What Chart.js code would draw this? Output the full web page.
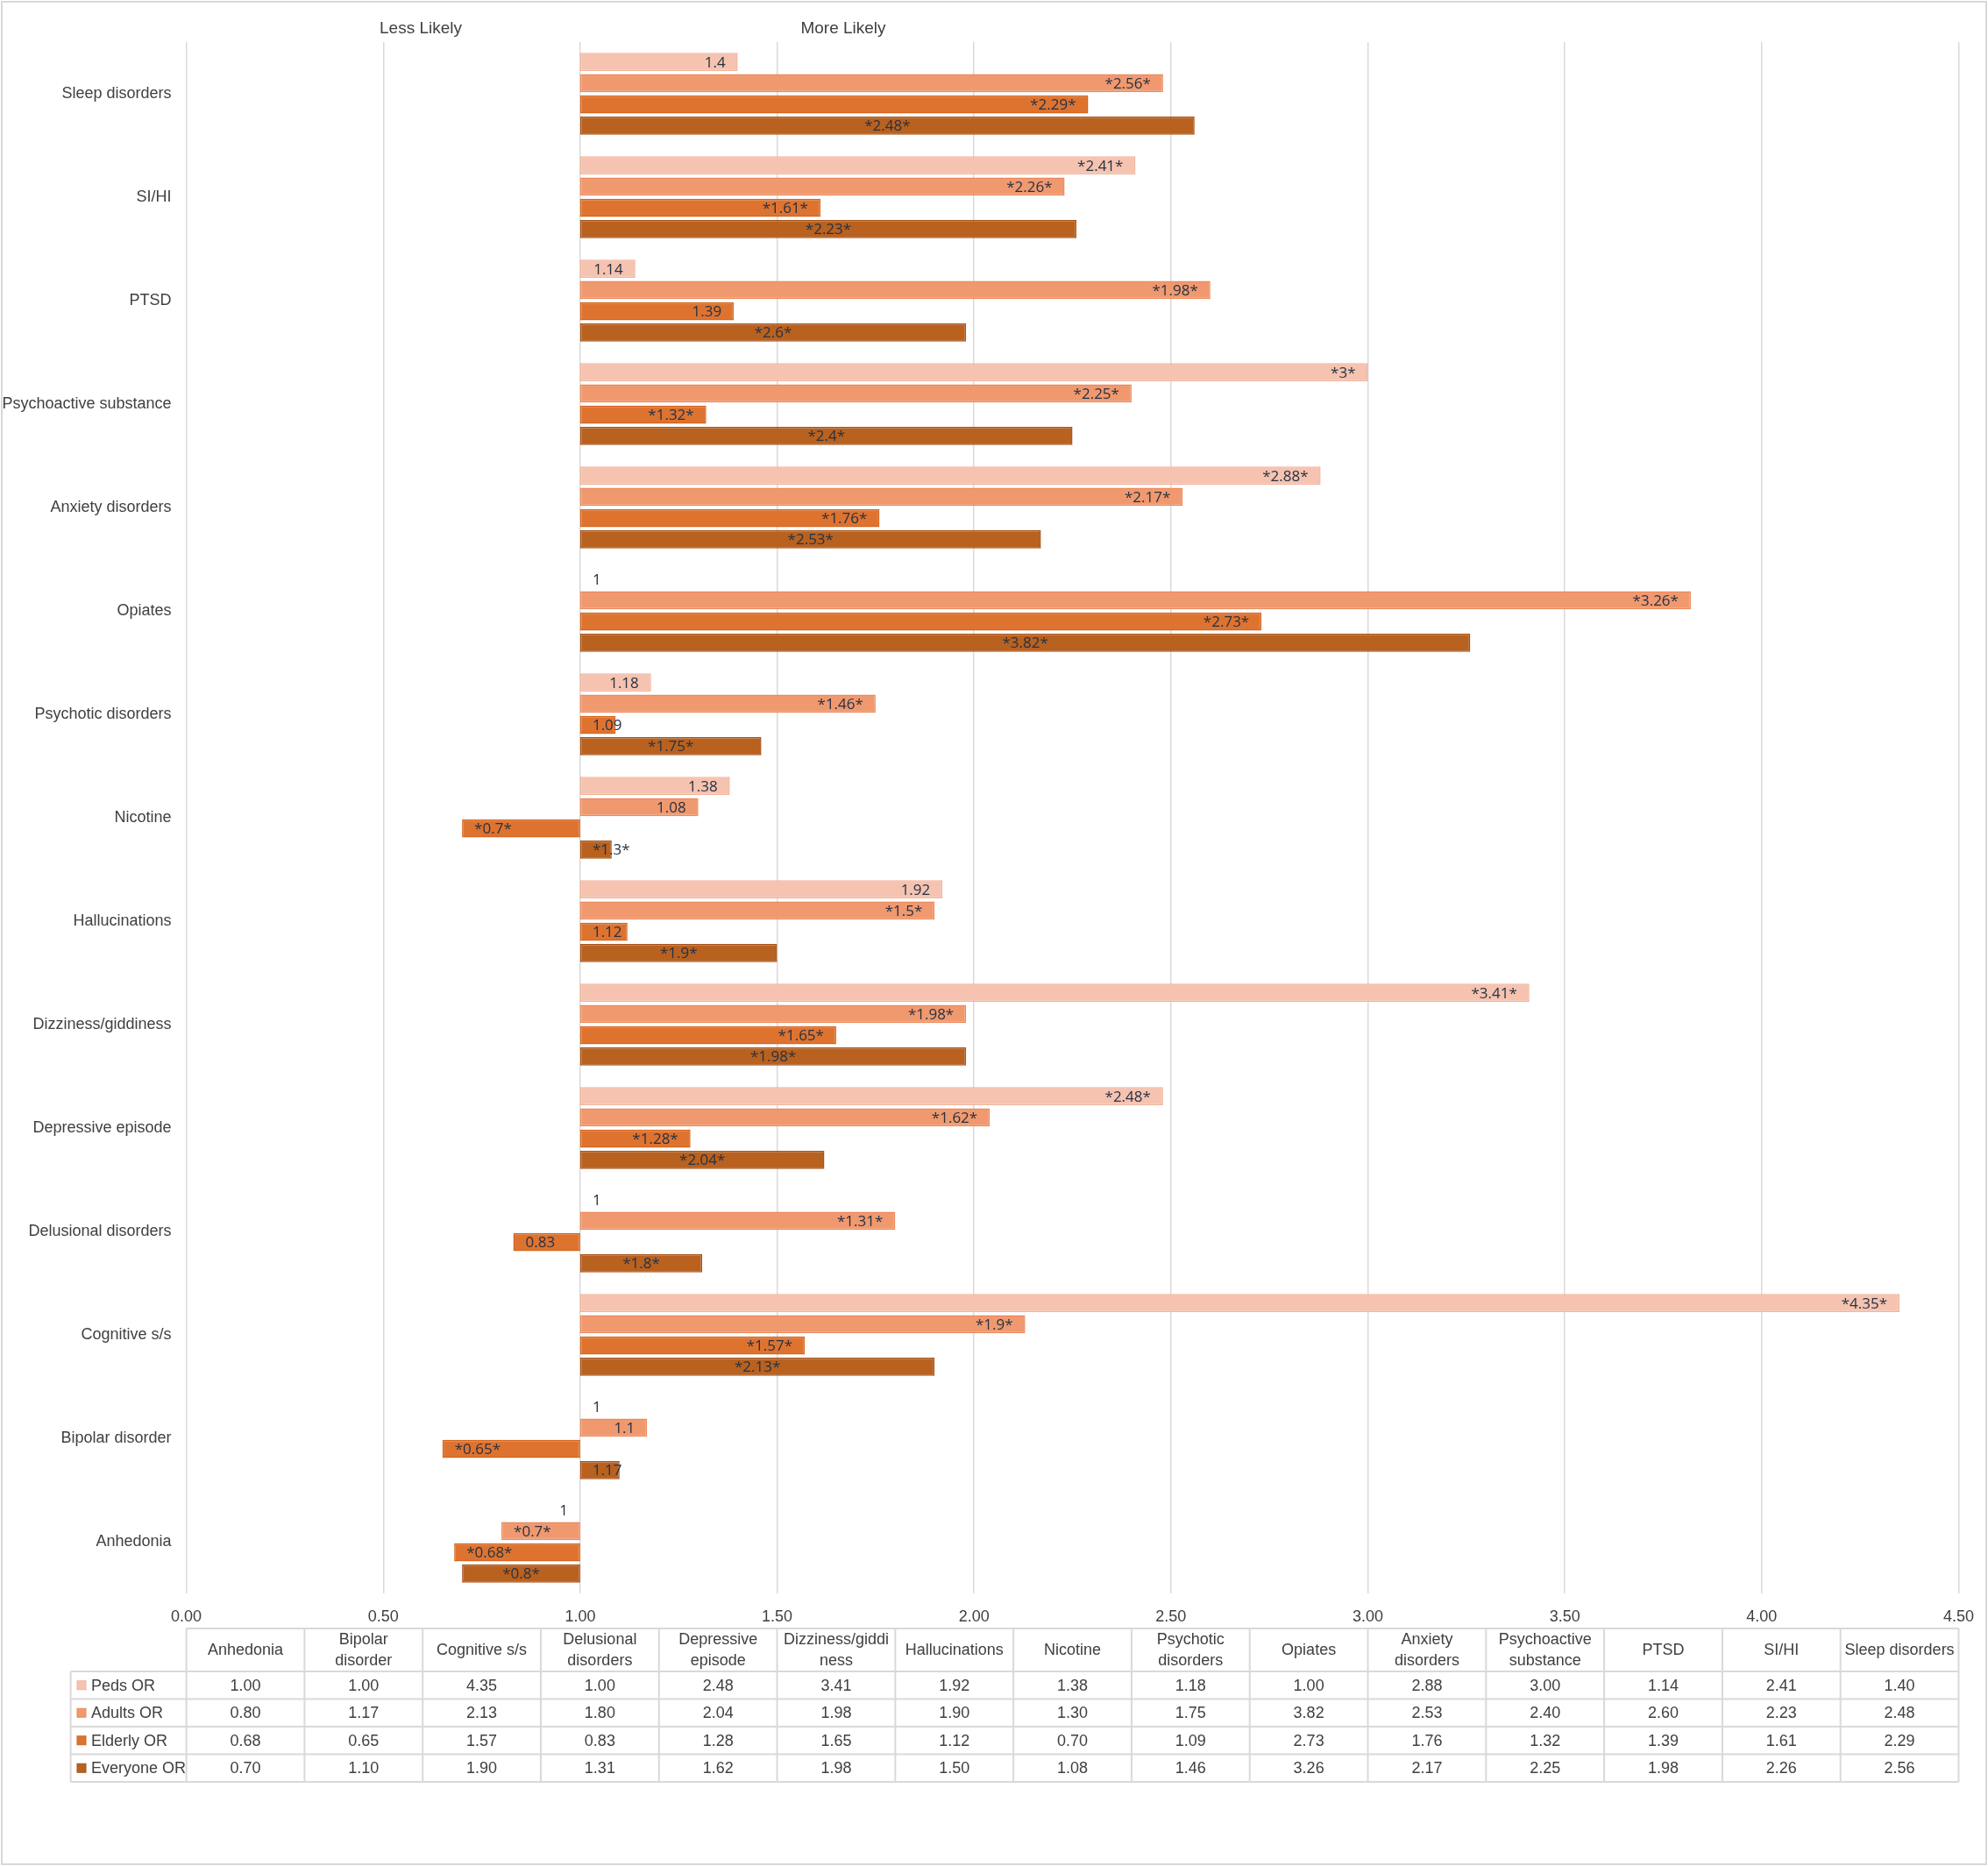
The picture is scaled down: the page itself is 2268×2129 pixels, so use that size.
<!DOCTYPE html>
<html><head><meta charset="utf-8">
<script src="https://cdn.jsdelivr.net/npm/chart.js@4.4.1/dist/chart.umd.min.js"></script>
<style>html,body{margin:0;padding:0;background:#fff;}canvas{display:block;}</style>
</head><body>
<canvas id="c" width="2268" height="2129"></canvas>
<script>
const categories = ['Anhedonia','Bipolar disorder','Cognitive s/s','Delusional disorders','Depressive episode','Dizziness/giddiness','Hallucinations','Nicotine','Psychotic disorders','Opiates','Anxiety disorders','Psychoactive substance','PTSD','SI/HI','Sleep disorders'];
const seriesNames = ['Peds OR','Adults OR','Elderly OR','Everyone OR'];
const pedsOR     = [1.00,1.00,4.35,1.00,2.48,3.41,1.92,1.38,1.18,1.00,2.88,3.00,1.14,2.41,1.40];
const adultsOR   = [0.80,1.17,2.13,1.80,2.04,1.98,1.90,1.30,1.75,3.82,2.53,2.40,2.60,2.23,2.48];
const elderlyOR  = [0.68,0.65,1.57,0.83,1.28,1.65,1.12,0.70,1.09,2.73,1.76,1.32,1.39,1.61,2.29];
const everyoneOR = [0.70,1.10,1.90,1.31,1.62,1.98,1.50,1.08,1.46,3.26,2.17,2.25,1.98,2.26,2.56];
const pedsLabels     = ['1','1','*4.35*','1','*2.48*','*3.41*','1.92','1.38','1.18','1','*2.88*','*3*','1.14','*2.41*','1.4'];
const adultsLabels   = ['*0.7*','1.1','*1.9*','*1.31*','*1.62*','*1.98*','*1.5*','1.08','*1.46*','*3.26*','*2.17*','*2.25*','*1.98*','*2.26*','*2.56*'];
const elderlyLabels  = ['*0.68*','*0.65*','*1.57*','0.83','*1.28*','*1.65*','1.12','*0.7*','1.09','*2.73*','*1.76*','*1.32*','1.39','*1.61*','*2.29*'];
const everyoneLabels = ['*0.8*','1.17','*2.13*','*1.8*','*2.04*','*1.98*','*1.9*','*1.3*','*1.75*','*3.82*','*2.53*','*2.4*','*2.6*','*2.23*','*2.48*'];
const headings = ['Less Likely','More Likely'];
const baseValue = 1;

const seriesValues = [pedsOR, adultsOR, elderlyOR, everyoneOR];
const seriesLabels = [pedsLabels, adultsLabels, elderlyLabels, everyoneLabels];
const fills   = ['#F5C3B0','#F0996F','#DE7330','#B9611F'];
const borders = ['#F2B49C','#EC8A5D','#D4661F','#A7531A'];
const AXIS_FONT = '"Liberation Sans", Arial, sans-serif';
const LABEL_FONT = '"Open Sans", "Noto Sans", sans-serif';
const TEXT = '#404040';

const datasets = seriesValues.map((vals, d) => ({
  label: seriesNames[d],
  data: vals.map(v => [baseValue, v]),
  backgroundColor: fills[d],
  borderColor: borders[d],
  borderWidth: 1.5,
  borderSkipped: false,
  categoryPercentage: 0.82,
  barPercentage: 0.855
}));

const bgPlugin = {
  id: 'bg',
  beforeDraw(chart) {
    const ctx = chart.ctx;
    ctx.save(); ctx.fillStyle = '#fff'; ctx.fillRect(0, 0, chart.width, chart.height); ctx.restore();
  }
};

const labelPlugin = {
  id: 'barLabels',
  afterDatasetsDraw(chart) {
    const ctx = chart.ctx;
    const xs = chart.scales.x;
    const pad = 14;
    ctx.save();
    ctx.font = '17px ' + LABEL_FONT;
    ctx.fillStyle = '#263243';
    ctx.textBaseline = 'middle';
    ctx.textAlign = 'left';
    seriesValues.forEach((vals, d) => {
      const meta = chart.getDatasetMeta(d);
      meta.data.forEach((bar, i) => {
        const v = vals[i];
        const txt = seriesLabels[d][i];
        const base = xs.getPixelForValue(baseValue);
        const end = xs.getPixelForValue(v);
        const w = ctx.measureText(txt).width;
        let dir = v > baseValue ? 1 : (v < baseValue ? -1 : (adultsOR[i] < baseValue ? -1 : 1));
        let left;
        if (d === 3) {
          if (Math.abs(end - base) >= w + 2 * pad) left = (base + end) / 2 - w / 2;
          else left = dir > 0 ? base + pad : base - pad - w;
        } else {
          if (dir > 0) left = Math.max(end - pad - w, base + pad);
          else left = Math.min(end + pad, base - pad - w);
        }
        ctx.fillText(txt, left, bar.y + 1);
      });
    });
    ctx.restore();
  }
};

function wrapText(ctx, text, maxW) {
  const words = text.split(' ');
  const lines = [];
  let cur = '';
  const breakWord = (word) => {
    let piece = '';
    for (const ch of word) {
      if (ctx.measureText(piece + ch).width > maxW && piece) { lines.push(piece); piece = ch; }
      else piece += ch;
    }
    return piece;
  };
  words.forEach(word => {
    const test = cur ? cur + ' ' + word : word;
    if (ctx.measureText(test).width <= maxW) cur = test;
    else {
      if (cur) lines.push(cur);
      cur = ctx.measureText(word).width > maxW ? breakWord(word) : word;
    }
  });
  if (cur) lines.push(cur);
  return lines;
}

const tablePlugin = {
  id: 'dataTable',
  afterDraw(chart) {
    const ctx = chart.ctx;
    const area = chart.chartArea;
    const xL = area.left, xR = area.right;
    const n = categories.length;
    const colW = (xR - xL) / n;
    const legL = 80.6;
    const top = 1858, headB = 1907, rowH = 31.5;
    const rowsB = headB + rowH * seriesNames.length;
    ctx.save();
    // headings
    ctx.fillStyle = TEXT;
    ctx.font = '19px ' + AXIS_FONT;
    ctx.textAlign = 'center';
    ctx.textBaseline = 'middle';
    ctx.fillText(headings[0], 480, 33);
    ctx.fillText(headings[1], 962, 33);
    // grid lines
    ctx.strokeStyle = '#d9d9d9';
    ctx.lineWidth = 2;
    ctx.beginPath();
    ctx.moveTo(xL, top); ctx.lineTo(xR, top);
    for (let r = 0; r <= seriesNames.length; r++) {
      const y = headB + r * rowH;
      ctx.moveTo(legL, y); ctx.lineTo(xR, y);
    }
    ctx.moveTo(legL, headB); ctx.lineTo(legL, rowsB);
    for (let c = 0; c <= n; c++) {
      const x = xL + c * colW;
      ctx.moveTo(x, top); ctx.lineTo(x, rowsB);
    }
    ctx.stroke();
    // header text
    ctx.fillStyle = TEXT;
    ctx.font = '18px ' + AXIS_FONT;
    ctx.textAlign = 'center';
    ctx.textBaseline = 'middle';
    categories.forEach((cat, c) => {
      const cx = xL + (c + 0.5) * colW;
      const lines = wrapText(ctx, cat, 125.5);
      const lh = 24;
      const cy = (top + headB) / 2;
      lines.forEach((ln, k) => {
        ctx.fillText(ln, cx, cy + (k - (lines.length - 1) / 2) * lh + 1);
      });
    });
    // rows
    seriesNames.forEach((name, r) => {
      const cy = headB + (r + 0.5) * rowH + 1;
      ctx.fillStyle = fills[r];
      ctx.fillRect(88, cy - 6, 10, 10);
      ctx.strokeStyle = borders[r]; ctx.lineWidth = 1;
      ctx.strokeRect(88, cy - 6, 10, 10);
      ctx.fillStyle = TEXT;
      ctx.textAlign = 'left';
      ctx.fillText(name, 104, cy);
      ctx.textAlign = 'center';
      seriesValues[r].forEach((v, c) => {
        ctx.fillText(v.toFixed(2), xL + (c + 0.5) * colW, cy);
      });
    });
    // frame
    ctx.strokeStyle = '#d9d9d9';
    ctx.lineWidth = 2;
    ctx.strokeRect(2, 2, chart.width - 4, chart.height - 4);
    ctx.restore();
  }
};

new Chart(document.getElementById('c'), {
  type: 'bar',
  data: { labels: categories, datasets },
  options: {
    responsive: false,
    animation: false,
    devicePixelRatio: 1,
    indexAxis: 'y',
    layout: { padding: { left: 0, right: 32, top: 48, bottom: 0 } },
    plugins: { legend: { display: false }, tooltip: { enabled: false } },
    scales: {
      x: {
        min: 0, max: 4.5,
        ticks: { stepSize: 0.5, callback: v => Number(v).toFixed(2), font: { family: AXIS_FONT, size: 18 }, color: TEXT, padding: 16, maxRotation: 0, autoSkip: false },
        grid: { color: '#d9d9d9', lineWidth: 1.5, drawTicks: false },
        border: { display: false },
        afterFit: s => { s.height = 2129 - 1818; }
      },
      y: {
        reverse: true,
        ticks: { font: { family: AXIS_FONT, size: 18 }, color: TEXT, padding: 17, autoSkip: false },
        grid: { display: false, drawTicks: false },
        border: { display: false },
        afterFit: s => { s.width = 212.6; }
      }
    }
  },
  plugins: [bgPlugin, labelPlugin, tablePlugin]
});
</script>
</body></html>
